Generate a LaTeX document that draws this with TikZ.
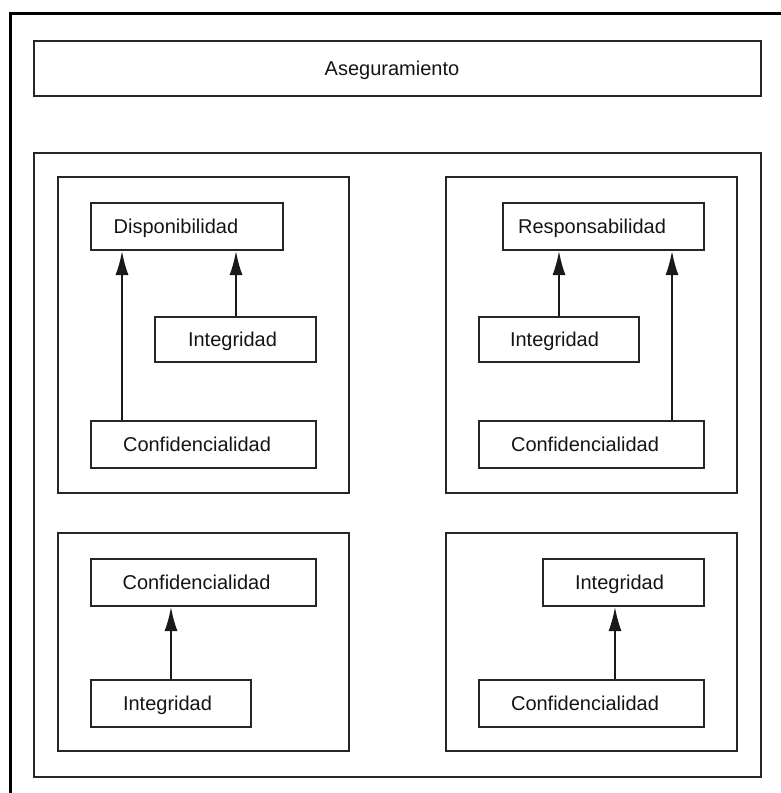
\documentclass[tikz,border=0pt]{standalone}
\usepackage{fontspec}
\setmainfont{Liberation Sans}
\usetikzlibrary{arrows.meta}
\tikzset{
  lbl/.style={draw=black!85, line width=1.8pt, rectangle, inner sep=0pt,
    text height=14.3pt, text depth=0pt,
    font=\fontsize{20}{23}\selectfont, text=black!92},
  panel/.style={draw=black!85, line width=1.8pt},
  arr/.style={draw=black!90, line width=1.8pt, -{Latex[length=24pt,width=13pt]}},
}
% box given by left, top, right, bottom (pixels); #7 shifts the text sideways
\newcommand{\labelbox}[7]{%
  \node[lbl, minimum width={#4-#2-1.8pt}, minimum height={#5-#3-1.8pt}]
    (#1) at ({(#2+#4)/2},{(#3+#5)/2}) {\hspace*{#7pt}#6};}
\begin{document}
\begin{tikzpicture}[x=1pt,y=-1pt]
\useasboundingbox (0,0) rectangle (781,793);
% outer frame (top and left edges)
\draw[line width=3pt] (10,793) -- (10,13) -- (781,13);
% heading
\labelbox{aseg}{33}{40}{762}{97}{Aseguramiento}{-11}
% container
\draw[panel] (34,153) rectangle (761,777);
% panels
\draw[panel] (58,177) rectangle (349,493);
\draw[panel] (446,177) rectangle (737,493);
\draw[panel] (58,533) rectangle (349,751);
\draw[panel] (446,533) rectangle (737,751);
% top-left panel
\labelbox{dispA}{90}{202}{284}{251}{Disponibilidad}{-22}
\labelbox{intA}{154}{316}{317}{363}{Integridad}{-6}
\labelbox{confA}{90}{420}{317}{469}{Confidencialidad}{-13}
\draw[arr] (confA.north -| 122,0) -- (dispA.south -| 122,0);
\draw[arr] (intA.north -| 236,0) -- (dispA.south -| 236,0);
% top-right panel
\labelbox{respB}{502}{202}{705}{251}{Responsabilidad}{-23}
\labelbox{intB}{478}{316}{640}{363}{Integridad}{-9}
\labelbox{confB}{478}{420}{705}{469}{Confidencialidad}{-13}
\draw[arr] (intB.north -| 559,0) -- (respB.south -| 559,0);
\draw[arr] (confB.north -| 672,0) -- (respB.south -| 672,0);
% bottom-left panel
\labelbox{confC}{90}{558}{317}{607}{Confidencialidad}{-14}
\labelbox{intC}{90}{679}{252}{728}{Integridad}{-7}
\draw[arr] (intC.north -| 171,0) -- (confC.south -| 171,0);
% bottom-right panel
\labelbox{intD}{542}{558}{705}{607}{Integridad}{-8}
\labelbox{confD}{478}{679}{705}{728}{Confidencialidad}{-13}
\draw[arr] (confD.north -| 615,0) -- (intD.south -| 615,0);
\end{tikzpicture}
\end{document}
